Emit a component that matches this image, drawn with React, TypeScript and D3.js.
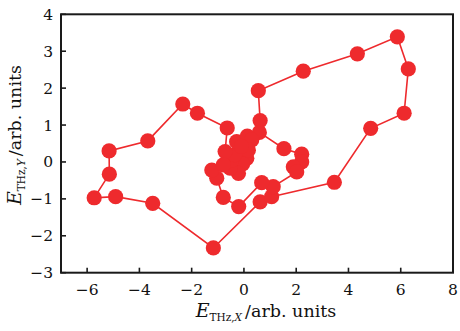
import React from "react";
import * as d3 from "d3";

// THz field trajectory, sampled in time order
const fieldX = [
  0.11, -0.05, -0.21, -0.53, -0.47, -0.35, -0.72, -0.64, -1.78, -2.34, -3.68, -5.16,
  -5.15, -5.73, -4.91, -3.49, -1.17, 0.62, 1.06, 3.46, 4.85, 6.13, 6.29, 5.87, 4.34,
  2.27, 0.55, 0.62, 0.59, 1.53, 2.21, 2.21, 1.89, 2.02, 1.12, 0.68, -0.2, -0.79,
  -1.04, -1.23, -0.79, -0.28, 0.13, 0.3, 0.17, -0.1,
];
const fieldY = [
  0.1, -0.05, -0.31, -0.17, 0.05, 0.2, 0.28, 0.92, 1.32, 1.57, 0.57, 0.3, -0.33,
  -0.97, -0.94, -1.12, -2.33, -1.08, -0.94, -0.55, 0.91, 1.32, 2.52, 3.39, 2.93, 2.46,
  1.93, 1.12, 0.8, 0.36, 0.21, 0.0, -0.13, -0.27, -0.67, -0.56, -1.21, -0.96, -0.44,
  -0.22, -0.08, 0.55, 0.7, 0.6, 0.32, 0.42,
];

const xTicks = [-6, -4, -2, 0, 2, 4, 6, 8];
const yTicks = [-3, -2, -1, 0, 1, 2, 3, 4];

const RED = "#ee2a2d";
const FONT = "'DejaVu Serif', 'Liberation Serif', serif";

export default function App() {
  const left = 61;
  const right = 453;
  const top = 14.3;
  const bottom = 272.7;

  const x = d3.scaleLinear().domain([-7, 8]).range([left, right]);
  const y = d3.scaleLinear().domain([-3, 4]).range([bottom, top]);

  const pts: [number, number][] = fieldX.map((v, i) => [v, fieldY[i]]);
  const path = d3
    .line<[number, number]>()
    .x((d) => x(d[0]))
    .y((d) => y(d[1]))(pts);

  const fmt = (v: number) => (v < 0 ? `\u2212${Math.abs(v)}` : `${v}`);

  return (
    <svg
      width={460}
      height={331}
      style={{ position: "absolute", left: 0, top: 0, background: "#fff" }}
      fontFamily={FONT}
    >
      <rect x={0} y={0} width={460} height={331} fill="#fff" />
      {/* plot frame */}
      <rect
        x={left}
        y={top}
        width={right - left}
        height={bottom - top}
        fill="none"
        stroke="#1a1a1a"
        strokeWidth={2}
      />

      {/* ticks, pointing inward */}
      {xTicks.map((t) => (
        <g key={`xt${t}`}>
          <line x1={x(t)} x2={x(t)} y1={bottom} y2={bottom - 5} stroke="#1a1a1a" strokeWidth={1.6} />
          <text x={x(t)} y={bottom + 22} textAnchor="middle" fontSize={15.5} fill="#111">
            {fmt(t)}
          </text>
        </g>
      ))}
      {yTicks.map((t) => (
        <g key={`yt${t}`}>
          <line x1={left} x2={left + 5} y1={y(t)} y2={y(t)} stroke="#1a1a1a" strokeWidth={1.6} />
          <text x={left - 8} y={y(t) + 5.5} textAnchor="end" fontSize={15.5} fill="#111">
            {fmt(t)}
          </text>
        </g>
      ))}

      {/* trajectory */}
      <path d={path ?? ""} fill="none" stroke={RED} strokeWidth={1.6} />
      {pts.map((d, i) => (
        <circle key={i} cx={x(d[0])} cy={y(d[1])} r={7.6} fill={RED} />
      ))}

      {/* axis titles */}
      <text x={266} y={317} textAnchor="middle" fontSize={17.5} fill="#111">
        <tspan fontStyle="italic" fontSize={19}>E</tspan>
        <tspan fontSize={10.5} dy={4}>THz,</tspan>
        <tspan fontSize={10.5} fontStyle="italic">X</tspan>
        <tspan dy={-4} dx={3}>/arb. units</tspan>
      </text>
      <text
        transform={`translate(21, 135) rotate(-90)`}
        textAnchor="middle"
        fontSize={17.5}
        fill="#111"
      >
        <tspan fontStyle="italic" fontSize={19}>E</tspan>
        <tspan fontSize={10.5} dy={4}>THz,</tspan>
        <tspan fontSize={10.5} fontStyle="italic">Y</tspan>
        <tspan dy={-4} dx={3}>/arb. units</tspan>
      </text>
    </svg>
  );
}
